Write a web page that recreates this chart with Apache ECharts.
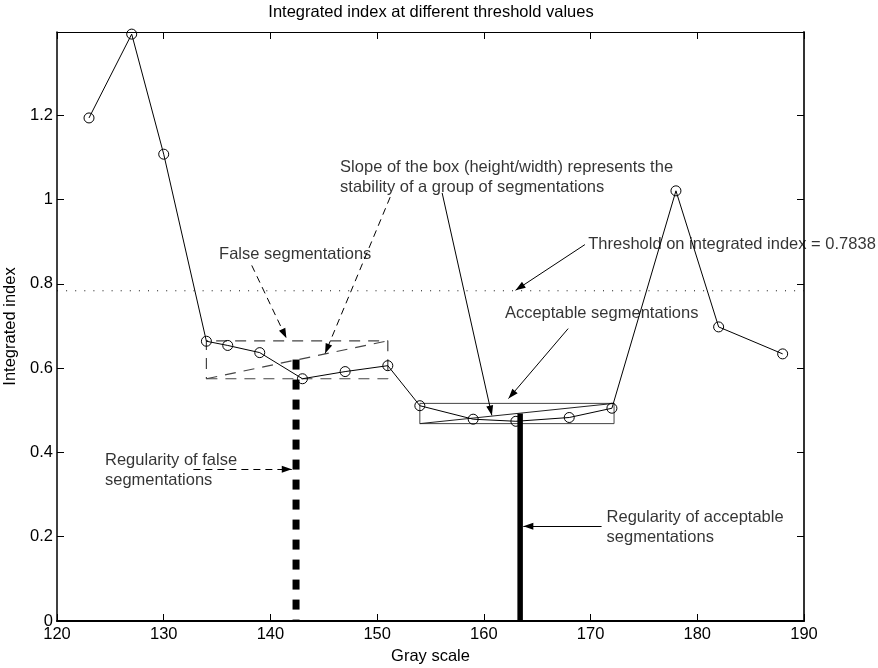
<!DOCTYPE html>
<html><head><meta charset="utf-8">
<script src="https://cdn.jsdelivr.net/npm/echarts@6/dist/echarts.min.js"></script>
<style>html,body{margin:0;padding:0;background:#fff}#c{width:878px;height:668px}</style>
</head><body><div id="c"></div>
<script>
// ---------------- data ----------------
const grayScale = [123, 127, 130, 134, 136, 139, 143, 147, 151, 154, 159, 163, 168, 172, 178, 182, 188];
const integratedIndex = [1.194, 1.393, 1.108, 0.664, 0.654, 0.637, 0.575, 0.592, 0.606, 0.511, 0.479, 0.474, 0.483, 0.505, 1.021, 0.698, 0.634];
const thresholdValue = 0.7838;
const xTicks = [120, 130, 140, 150, 160, 170, 180, 190];
const yTicks = [0, 0.2, 0.4, 0.6, 0.8, 1, 1.2];
const yMax = 1.398;

// group boxes [min, max]
const falseBoxX = [134, 151];
const falseBoxY = [0.575, 0.665];
const acceptBoxX = [154, 172.2];
const acceptBoxY = [0.4685, 0.5165];
// regularity bars [x, top]
const falseRegularity = [142.4, 0.6205];
const acceptRegularity = [163.4, 0.4925];

// annotations (data coordinates)
const annotationTexts = [
  'False segmentations',
  'Slope of the box (height/width) represents the\nstability of a group of segmentations',
  'Threshold on integrated index = 0.7838',
  'Acceptable segmentations',
  'Regularity of false\nsegmentations',
  'Regularity of acceptable\nsegmentations'
];
const annotationX = [135.19, 146.53, 169.78, 161.97, 124.5, 171.5];
const annotationY = [0.8697, 1.0527, 0.8948, 0.7296, 0.3577, 0.2217];

const arrowFrom = [[138.25, 0.844], [151.22, 1.006], [156.09, 1.016], [169.47, 0.8934], [167.9, 0.694], [132.78, 0.360], [171.03, 0.2248]];
const arrowTo   = [[141.5, 0.671], [145.12, 0.635], [160.75, 0.488], [162.97, 0.785], [162.31, 0.528], [142.0, 0.360], [163.7, 0.2248]];
const arrowDashed = [true, true, false, false, false, true, false];

// ---------------- chart ----------------
const FONT = '"Liberation Sans", Arial, Helvetica, sans-serif';
const chart = echarts.init(document.getElementById('c'), null, {renderer: 'canvas'});

function seg(points, style, z) {
  return {type: 'line', data: points, showSymbol: false, symbol: 'none',
          lineStyle: style, silent: true, z: z || 2, clip: false};
}
function rect(bx, by) {
  return [[bx[0], by[0]], [bx[1], by[0]], [bx[1], by[1]], [bx[0], by[1]], [bx[0], by[0]]];
}
function fmt(v) {
  const r = Math.round(v * 10) / 10;
  return String(r);
}

const arrowHead = 'path://M0,0L-3.5,10L3.5,10Z M-10,-10L-10,-10Z M10,10L10,10Z';
const dashedArrows = [], solidArrows = [];
arrowFrom.forEach((f, i) => {
  (arrowDashed[i] ? dashedArrows : solidArrows).push({coords: [f, arrowTo[i]]});
});

function axisLine(color, width) {
  return {show: true, onZero: false, lineStyle: {color: color, width: width}};
}
const axisCommon = {
  type: 'value', splitLine: {show: false},
  axisTick: {show: true, inside: true, length: 7, lineStyle: {color: '#000', width: 1}}
};

const xMin = xTicks[0], xMax = xTicks[xTicks.length - 1];

const option = {
  animation: false,
  backgroundColor: '#fff',
  title: {
    text: 'Integrated index at different threshold values',
    left: 431, top: 4, textAlign: 'center', padding: 0,
    textStyle: {fontFamily: FONT, fontSize: 16.5, fontWeight: 'normal', color: '#000'}
  },
  grid: {left: 57, right: 74, top: 32, bottom: 47, containLabel: false, outerBoundsMode: 'none'},
  xAxis: [
    Object.assign({}, axisCommon, {
      position: 'bottom', min: xMin, max: xMax, interval: 10,
      axisLine: axisLine('#000', 2),
      name: 'Gray scale', nameLocation: 'middle', nameGap: 24,
      nameTextStyle: {fontFamily: FONT, fontSize: 16.5, color: '#000'},
      axisLabel: {fontFamily: FONT, fontSize: 16.5, color: '#000', margin: 5}
    }),
    Object.assign({}, axisCommon, {
      position: 'top', min: xMin, max: xMax, interval: 10,
      axisLine: axisLine('#000', 1.2),
      axisLabel: {show: false}
    })
  ],
  yAxis: [
    Object.assign({}, axisCommon, {
      position: 'left', min: 0, max: yMax, interval: 0.2,
      axisLine: axisLine('#000', 1.5),
      name: 'Integrated index', nameLocation: 'middle', nameGap: 33,
      nameTextStyle: {fontFamily: FONT, fontSize: 16.5, color: '#000'},
      axisLabel: {fontFamily: FONT, fontSize: 16.5, color: '#000', margin: 4, showMaxLabel: false,
        formatter: v => (yTicks.some(t => Math.abs(t - v) < 1e-6) ? fmt(v) : '')}
    }),
    Object.assign({}, axisCommon, {
      position: 'right', min: 0, max: yMax, interval: 0.2,
      axisLine: axisLine('#333', 2),
      axisLabel: {show: false}
    })
  ],
  series: [
    seg([[xMin, thresholdValue], [xMax, thresholdValue]], {color: '#111', width: 1, type: [1, 8.1]}, 1),
    seg(rect(falseBoxX, falseBoxY), {color: '#444', width: 1.2, type: [11, 8]}, 2),
    seg([[falseBoxX[0], falseBoxY[0]], [falseBoxX[1], falseBoxY[1]]], {color: '#444', width: 1.2, type: [11, 8]}, 2),
    seg(rect(acceptBoxX, acceptBoxY), {color: '#444', width: 1}, 2),
    seg([[acceptBoxX[0], acceptBoxY[0]], [acceptBoxX[1], acceptBoxY[1]]], {color: '#222', width: 1}, 2),
    seg([[falseRegularity[0], falseRegularity[1]], [falseRegularity[0], 0]], {color: '#000', width: 7, type: [10, 10], cap: 'butt'}, 3),
    seg([[acceptRegularity[0], acceptRegularity[1]], [acceptRegularity[0], 0]], {color: '#000', width: 5.5, cap: 'butt'}, 3),
    {
      type: 'line', z: 4, silent: true, clip: false,
      data: grayScale.map((x, i) => [x, integratedIndex[i]]),
      symbol: 'circle', symbolSize: 10, showSymbol: true,
      lineStyle: {color: '#000', width: 1},
      itemStyle: {color: 'rgba(0,0,0,0)', borderColor: '#000', borderWidth: 1}
    },
    {
      type: 'lines', coordinateSystem: 'cartesian2d', z: 5, silent: true,
      symbol: ['none', arrowHead], symbolSize: 20,
      lineStyle: {color: '#000', width: 1, type: [7, 5], opacity: 1},
      data: dashedArrows
    },
    {
      type: 'lines', coordinateSystem: 'cartesian2d', z: 5, silent: true,
      symbol: ['none', arrowHead], symbolSize: 20,
      lineStyle: {color: '#000', width: 1, opacity: 1},
      data: solidArrows
    },
    {
      type: 'scatter', z: 6, silent: true, symbolSize: 0,
      data: annotationTexts.map((t, i) => ({value: [annotationX[i], annotationY[i]], name: t})),
      label: {
        show: true, position: 'right', distance: 0,
        formatter: p => p.name,
        fontFamily: FONT, fontSize: 16.5, color: '#000', lineHeight: 19.5
      }
    }
  ]
};
chart.setOption(option);
</script>
</body></html>
